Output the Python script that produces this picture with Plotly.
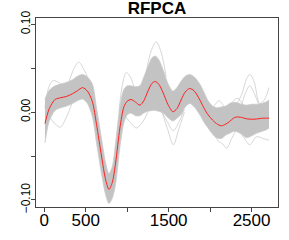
import plotly.graph_objects as go

# ---- data ----
grid_x = [8, 60, 130, 200, 270, 340, 400, 462, 520, 580, 630, 690, 740, 780, 820, 860,
          912, 960, 1000, 1045, 1100, 1153, 1200, 1250, 1300, 1337, 1380, 1434, 1490,
          1551, 1600, 1655, 1700, 1755, 1810, 1876, 1930, 1976, 2030, 2077, 2135, 2190,
          2236, 2280, 2316, 2380, 2438, 2500, 2559, 2620, 2680, 2711]

mean_curve = [-0.013, 0.004, 0.0145, 0.0165, 0.018, 0.021, 0.0245, 0.028, 0.024, 0.012,
              -0.014, -0.050, -0.077, -0.088, -0.080, -0.058, -0.018, 0.006, 0.0125, 0.0145,
              0.0115, 0.008, 0.013, 0.024, 0.033, 0.035, 0.032, 0.022, 0.009, 0.0005,
              0.004, 0.015, 0.023, 0.027, 0.024, 0.014, 0.004, -0.003, -0.009, -0.013,
              -0.0155, -0.0135, -0.0105, -0.007, -0.0055, -0.006, -0.0075, -0.008, -0.0078,
              -0.007, -0.0068, -0.0068]

band_upper = [0.015, 0.025, 0.030, 0.032, 0.034, 0.037, 0.041, 0.043, 0.040, 0.032,
              0.005, -0.030, -0.058, -0.070, -0.062, -0.035, 0.006, 0.026, 0.030, 0.030,
              0.029, 0.030, 0.040, 0.052, 0.062, 0.064, 0.060, 0.048, 0.033, 0.024,
              0.028, 0.036, 0.041, 0.043, 0.040, 0.032, 0.022, 0.013, 0.007, 0.005,
              0.006, 0.007, 0.010, 0.011, 0.011, 0.009, 0.008, 0.009, 0.009, 0.010,
              0.012, 0.014]

band_lower = [-0.035, -0.010, 0.002, 0.005, 0.007, 0.010, 0.013, 0.015, 0.010, -0.005,
              -0.035, -0.070, -0.094, -0.104, -0.098, -0.082, -0.040, -0.012, -0.003, -0.001,
              -0.004, -0.004, -0.001, 0.001, 0.002, 0.002, 0.001, -0.001, -0.006, -0.010,
              -0.007, -0.002, 0.006, 0.010, 0.006, -0.003, -0.012, -0.018, -0.025, -0.029,
              -0.030, -0.026, -0.024, -0.022, -0.022, -0.025, -0.029, -0.027, -0.024, -0.022,
              -0.020, -0.018]

# individual curves that leave the dense band (x, y pairs)
out1_x = [8, 60, 110, 170, 230]
out1_y = [0.005, 0.030, 0.036, 0.034, 0.030]
out2_x = [30, 100, 190, 270, 340]
out2_y = [0.0, -0.010, -0.017, -0.005, 0.012]
out3_x = [300, 360, 414, 470, 540]
out3_y = [0.035, 0.050, 0.057, 0.050, 0.036]
out4_x = [900, 950, 990, 1040, 1100, 1160]
out4_y = [0.0, 0.035, 0.045, 0.040, 0.027, 0.028]
out5_x = [980, 1050, 1110, 1180, 1250]
out5_y = [-0.005, -0.013, -0.018, -0.012, 0.0]
out6_x = [1230, 1290, 1350, 1410, 1470]
out6_y = [0.045, 0.070, 0.080, 0.068, 0.040]
out7_x = [1420, 1490, 1556, 1620, 1690]
out7_y = [0.0, -0.020, -0.037, -0.020, 0.0]
out8_x = [1420, 1490, 1556, 1620, 1690]
out8_y = [0.0, -0.012, -0.021, -0.012, 0.003]
out9_x = [2300, 2380, 2440, 2480, 2530, 2600, 2660, 2711]
out9_y = [0.005, 0.020, 0.038, 0.043, 0.035, 0.010, 0.015, 0.028]
out10_x = [2380, 2440, 2480, 2530, 2600]
out10_y = [0.008, 0.025, 0.030, 0.022, 0.005]
out11_x = [2030, 2100, 2150, 2200, 2260, 2330, 2400, 2478, 2560, 2640, 2711]
out11_y = [-0.020, -0.033, -0.036, -0.041, -0.030, -0.020, -0.028, -0.037, -0.028, -0.030, -0.032]
out12_x = [2030, 2110, 2180, 2250, 2325, 2400]
out12_y = [0.004, 0.013, 0.006, 0.010, 0.016, 0.008]

outliers = [(out1_x, out1_y), (out2_x, out2_y), (out3_x, out3_y), (out4_x, out4_y),
            (out5_x, out5_y), (out6_x, out6_y), (out7_x, out7_y), (out8_x, out8_y),
            (out9_x, out9_y), (out10_x, out10_y), (out11_x, out11_y), (out12_x, out12_y)]

x_tickvals = [0, 500, 1000, 1500, 2000, 2500]
x_ticktext = ["0", "500", "", "1500", "", "2500"]
y_tickvals = [-0.10, -0.05, 0.00, 0.05, 0.10]
y_ticktext = ["\u22120.10", "", "0.00", "", "0.10"]

fig = go.Figure()

for ox, oy in outliers:
    fig.add_trace(go.Scatter(x=ox, y=oy, mode="lines",
                             line=dict(color="#cccccc", width=0.8, shape="spline", smoothing=1.0),
                             hoverinfo="skip", showlegend=False))

fig.add_trace(go.Scatter(x=grid_x, y=band_upper, mode="lines",
                         line=dict(color="#cacaca", width=0.8, shape="spline", smoothing=0.8),
                         hoverinfo="skip", showlegend=False))
fig.add_trace(go.Scatter(x=grid_x, y=band_lower, mode="lines", fill="tonexty",
                         fillcolor="#c3c3c3",
                         line=dict(color="#cacaca", width=0.8, shape="spline", smoothing=0.8),
                         hoverinfo="skip", showlegend=False))

fig.add_trace(go.Scatter(x=grid_x, y=mean_curve, mode="lines",
                         line=dict(color="#ff2020", width=1.0, shape="spline", smoothing=0.8),
                         showlegend=False))

axis_font = dict(family="Liberation Sans, Arial, sans-serif", color="black")

fig.update_layout(
    template="none",
    width=289, height=240,
    margin=dict(l=36, r=11, t=18, b=33, autoexpand=False),
    paper_bgcolor="white", plot_bgcolor="white",
    title=dict(text="<b>RFPCA</b>", x=0.543, xanchor="center", y=0.966, yanchor="middle",
               font=dict(family="Liberation Sans, Arial, sans-serif", size=17, color="black")),
    xaxis=dict(range=[-100, 2819], tickvals=x_tickvals, ticktext=x_ticktext,
               automargin=False, ticklabelstandoff=-6,
               showgrid=False, zeroline=False, showline=True, mirror=True,
               linecolor="#444", linewidth=1, ticks="outside", ticklen=4, tickcolor="#444",
               tickfont=dict(size=17, **axis_font)),
    yaxis=dict(range=[-0.108, 0.1073], tickvals=y_tickvals, ticktext=y_ticktext,
               tickangle=-90, automargin=False, ticklabelstandoff=-4,
               showgrid=False, zeroline=False, showline=True, mirror=True,
               linecolor="#444", linewidth=1, ticks="outside", ticklen=4, tickcolor="#444",
               tickfont=dict(size=12, **axis_font)),
)

fig.write_html("out.html", config={"displayModeBar": False},
               post_script="document.body.style.margin='0';document.body.style.padding='0';")
